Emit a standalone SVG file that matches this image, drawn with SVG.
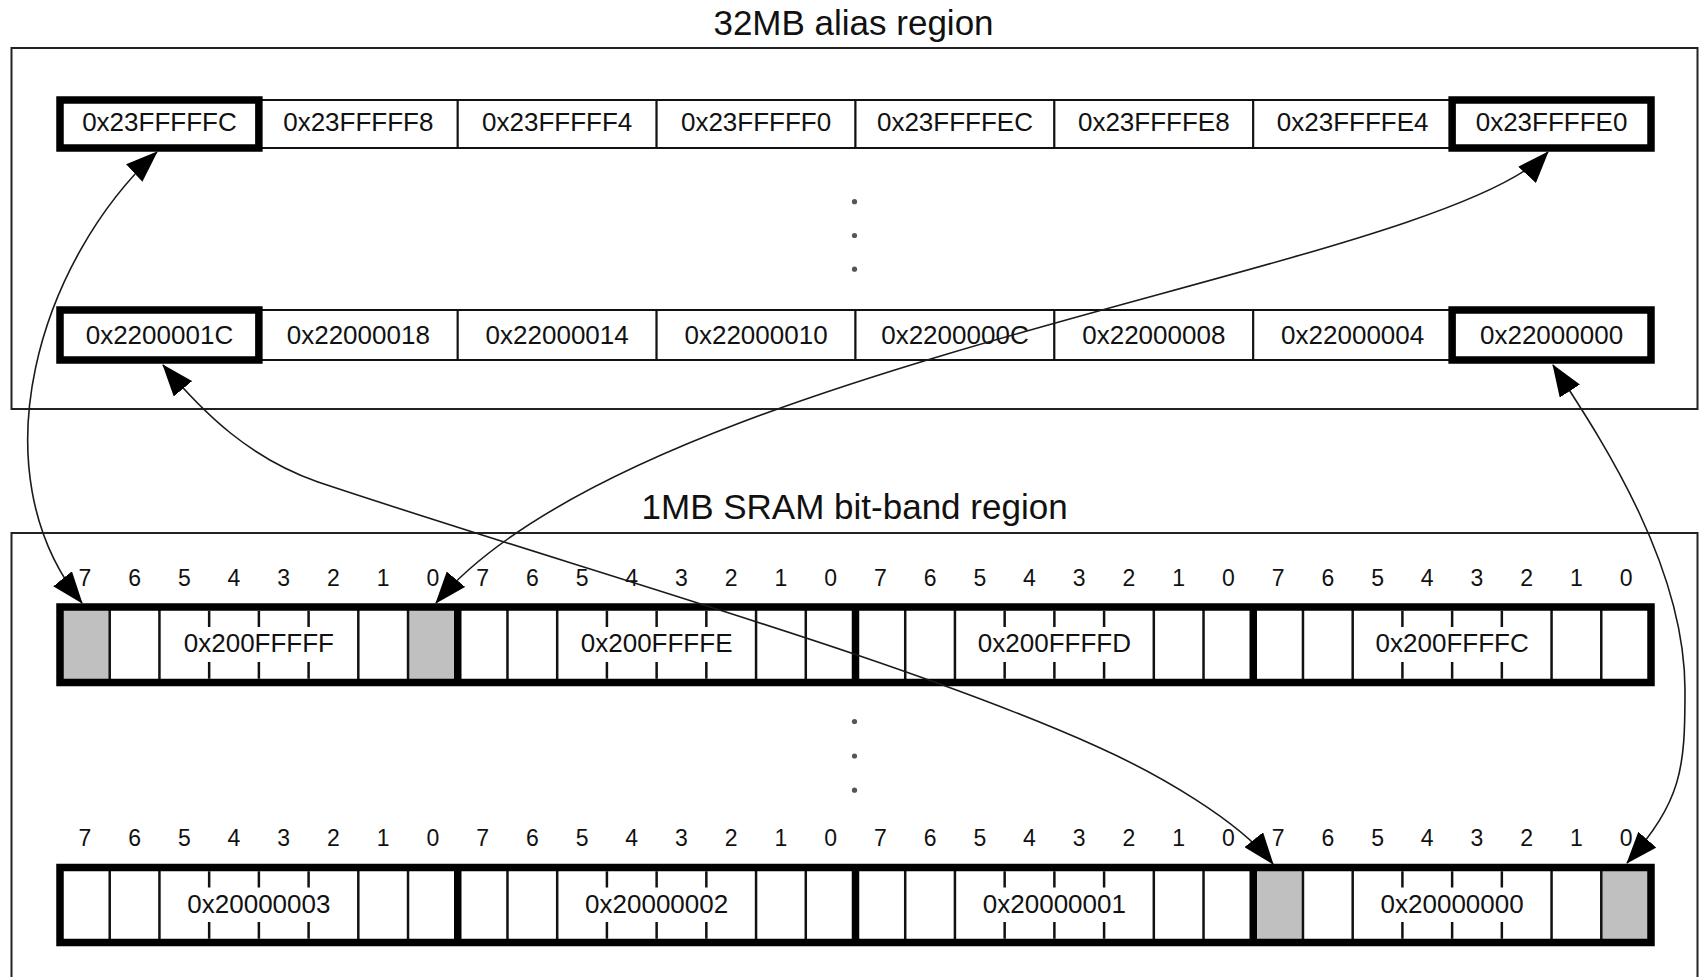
<svg xmlns="http://www.w3.org/2000/svg" width="1700" height="977" viewBox="0 0 1700 977">
<style>
.bg{fill:#fff}
.frame{fill:none;stroke:#222;stroke-width:2}
.cell{fill:#fff;stroke:#111;stroke-width:2}
.thick{fill:none;stroke:#000;stroke-width:7.5}
.thin{stroke:#111;stroke-width:2.5}
.gray{fill:#c0c0c0}
.t{font-family:"Liberation Sans",Arial,sans-serif;font-size:26px;fill:#111;text-anchor:middle}
.bn{font-family:"Liberation Sans",Arial,sans-serif;font-size:23px;fill:#111;text-anchor:middle}
.title{font-family:"Liberation Sans",Arial,sans-serif;font-size:35px;fill:#111;text-anchor:middle}
.dot{fill:#555}
.conn{fill:none;stroke:#1a1a1a;stroke-width:1.6;marker-start:url(#ah);marker-end:url(#ah)}
</style>
<defs>
<marker id="ah" viewBox="0 0 32 24" refX="31" refY="12" markerWidth="32" markerHeight="24" markerUnits="userSpaceOnUse" orient="auto-start-reverse"><path d="M0,0 L32,12 L0,24 Z" fill="#000"/></marker>
</defs>
<rect class="bg" x="0" y="0" width="1700" height="977"/>

<g id="alias-region">
<text class="title" x="853.5" y="34.5">32MB alias region</text>
<rect class="frame" x="11.5" y="48" width="1686" height="361"/>
</g>

<g id="alias-row-top">
<g id="a-23FFFFFC"><rect class="cell" x="60" y="100" width="198.875" height="48"/><text class="t" x="159.44" y="131">0x23FFFFFC</text></g>
<g id="a-23FFFFF8"><rect class="cell" x="258.875" y="100" width="198.875" height="48"/><text class="t" x="358.31" y="131">0x23FFFFF8</text></g>
<g id="a-23FFFFF4"><rect class="cell" x="457.75" y="100" width="198.875" height="48"/><text class="t" x="557.19" y="131">0x23FFFFF4</text></g>
<g id="a-23FFFFF0"><rect class="cell" x="656.625" y="100" width="198.875" height="48"/><text class="t" x="756.06" y="131">0x23FFFFF0</text></g>
<g id="a-23FFFFEC"><rect class="cell" x="855.5" y="100" width="198.875" height="48"/><text class="t" x="954.94" y="131">0x23FFFFEC</text></g>
<g id="a-23FFFFE8"><rect class="cell" x="1054.375" y="100" width="198.875" height="48"/><text class="t" x="1153.81" y="131">0x23FFFFE8</text></g>
<g id="a-23FFFFE4"><rect class="cell" x="1253.25" y="100" width="198.875" height="48"/><text class="t" x="1352.69" y="131">0x23FFFFE4</text></g>
<g id="a-23FFFFE0"><rect class="cell" x="1452.125" y="100" width="198.875" height="48"/><text class="t" x="1551.56" y="131">0x23FFFFE0</text></g>
<rect class="thick" x="60" y="100" width="198.875" height="48"/>
<rect class="thick" x="1452.125" y="100" width="198.875" height="48"/>
</g>

<g id="alias-dots">
<circle class="dot" cx="854.5" cy="201.7" r="2.6"/>
<circle class="dot" cx="854.5" cy="235.5" r="2.6"/>
<circle class="dot" cx="854.5" cy="269.2" r="2.6"/>
</g>

<g id="alias-row-bottom">
<g id="a-2200001C"><rect class="cell" x="60" y="310" width="198.875" height="50"/><text class="t" x="159.44" y="343.5">0x2200001C</text></g>
<g id="a-22000018"><rect class="cell" x="258.875" y="310" width="198.875" height="50"/><text class="t" x="358.31" y="343.5">0x22000018</text></g>
<g id="a-22000014"><rect class="cell" x="457.75" y="310" width="198.875" height="50"/><text class="t" x="557.19" y="343.5">0x22000014</text></g>
<g id="a-22000010"><rect class="cell" x="656.625" y="310" width="198.875" height="50"/><text class="t" x="756.06" y="343.5">0x22000010</text></g>
<g id="a-2200000C"><rect class="cell" x="855.5" y="310" width="198.875" height="50"/><text class="t" x="954.94" y="343.5">0x2200000C</text></g>
<g id="a-22000008"><rect class="cell" x="1054.375" y="310" width="198.875" height="50"/><text class="t" x="1153.81" y="343.5">0x22000008</text></g>
<g id="a-22000004"><rect class="cell" x="1253.25" y="310" width="198.875" height="50"/><text class="t" x="1352.69" y="343.5">0x22000004</text></g>
<g id="a-22000000"><rect class="cell" x="1452.125" y="310" width="198.875" height="50"/><text class="t" x="1551.56" y="343.5">0x22000000</text></g>
<rect class="thick" x="60" y="310" width="198.875" height="50"/>
<rect class="thick" x="1452.125" y="310" width="198.875" height="50"/>
</g>

<g id="bitband-region">
<text class="title" x="854.6" y="518.5">1MB SRAM bit-band region</text>
<rect class="frame" x="11.5" y="533" width="1686" height="470"/>
</g>

<g id="bit-numbers-top">
<text class="bn" x="84.86" y="586">7</text><text class="bn" x="134.58" y="586">6</text><text class="bn" x="184.30" y="586">5</text><text class="bn" x="234.02" y="586">4</text><text class="bn" x="283.73" y="586">3</text><text class="bn" x="333.45" y="586">2</text><text class="bn" x="383.17" y="586">1</text><text class="bn" x="432.89" y="586">0</text>
<text class="bn" x="482.61" y="586">7</text><text class="bn" x="532.33" y="586">6</text><text class="bn" x="582.05" y="586">5</text><text class="bn" x="631.77" y="586">4</text><text class="bn" x="681.48" y="586">3</text><text class="bn" x="731.20" y="586">2</text><text class="bn" x="780.92" y="586">1</text><text class="bn" x="830.64" y="586">0</text>
<text class="bn" x="880.36" y="586">7</text><text class="bn" x="930.08" y="586">6</text><text class="bn" x="979.80" y="586">5</text><text class="bn" x="1029.52" y="586">4</text><text class="bn" x="1079.23" y="586">3</text><text class="bn" x="1128.95" y="586">2</text><text class="bn" x="1178.67" y="586">1</text><text class="bn" x="1228.39" y="586">0</text>
<text class="bn" x="1278.11" y="586">7</text><text class="bn" x="1327.83" y="586">6</text><text class="bn" x="1377.55" y="586">5</text><text class="bn" x="1427.27" y="586">4</text><text class="bn" x="1476.98" y="586">3</text><text class="bn" x="1526.70" y="586">2</text><text class="bn" x="1576.42" y="586">1</text><text class="bn" x="1626.14" y="586">0</text>
</g>

<g id="bit-row-top">
<rect x="60" y="607" width="1591" height="75.5" fill="#fff"/>
<rect class="gray" x="60" y="607" width="49.72" height="75.5"/>
<rect class="gray" x="408.03" y="607" width="49.72" height="75.5"/>
<g id="b-200FFFFF">
<path class="thin" d="M109.72,607V682.5M159.44,607V682.5M358.31,607V682.5M408.03,607V682.5M209.16,610.75V627M258.88,610.75V627M308.59,610.75V627M209.16,662V678.75M258.88,662V678.75M308.59,662V678.75"/>
<text class="t" x="258.88" y="652">0x200FFFFF</text>
</g>
<g id="b-200FFFFE">
<path class="thin" d="M507.47,607V682.5M557.19,607V682.5M756.06,607V682.5M805.78,607V682.5M606.91,610.75V627M656.63,610.75V627M706.34,610.75V627M606.91,662V678.75M656.63,662V678.75M706.34,662V678.75"/>
<text class="t" x="656.63" y="652">0x200FFFFE</text>
</g>
<g id="b-200FFFFD">
<path class="thin" d="M905.22,607V682.5M954.94,607V682.5M1153.81,607V682.5M1203.53,607V682.5M1004.66,610.75V627M1054.38,610.75V627M1104.09,610.75V627M1004.66,662V678.75M1054.38,662V678.75M1104.09,662V678.75"/>
<text class="t" x="1054.38" y="652">0x200FFFFD</text>
</g>
<g id="b-200FFFFC">
<path class="thin" d="M1302.97,607V682.5M1352.69,607V682.5M1551.56,607V682.5M1601.28,607V682.5M1402.41,610.75V627M1452.13,610.75V627M1501.84,610.75V627M1402.41,662V678.75M1452.13,662V678.75M1501.84,662V678.75"/>
<text class="t" x="1452.13" y="652">0x200FFFFC</text>
</g>
<rect class="thick" x="60" y="607" width="1591" height="75.5"/>
<path class="thick" d="M457.75,607V682.5M855.5,607V682.5M1253.25,607V682.5"/>
</g>

<g id="bitband-dots">
<circle class="dot" cx="854.5" cy="721.5" r="2.6"/>
<circle class="dot" cx="854.5" cy="756" r="2.6"/>
<circle class="dot" cx="854.5" cy="790.2" r="2.6"/>
</g>

<g id="bit-numbers-bottom">
<text class="bn" x="84.86" y="845.5">7</text><text class="bn" x="134.58" y="845.5">6</text><text class="bn" x="184.30" y="845.5">5</text><text class="bn" x="234.02" y="845.5">4</text><text class="bn" x="283.73" y="845.5">3</text><text class="bn" x="333.45" y="845.5">2</text><text class="bn" x="383.17" y="845.5">1</text><text class="bn" x="432.89" y="845.5">0</text>
<text class="bn" x="482.61" y="845.5">7</text><text class="bn" x="532.33" y="845.5">6</text><text class="bn" x="582.05" y="845.5">5</text><text class="bn" x="631.77" y="845.5">4</text><text class="bn" x="681.48" y="845.5">3</text><text class="bn" x="731.20" y="845.5">2</text><text class="bn" x="780.92" y="845.5">1</text><text class="bn" x="830.64" y="845.5">0</text>
<text class="bn" x="880.36" y="845.5">7</text><text class="bn" x="930.08" y="845.5">6</text><text class="bn" x="979.80" y="845.5">5</text><text class="bn" x="1029.52" y="845.5">4</text><text class="bn" x="1079.23" y="845.5">3</text><text class="bn" x="1128.95" y="845.5">2</text><text class="bn" x="1178.67" y="845.5">1</text><text class="bn" x="1228.39" y="845.5">0</text>
<text class="bn" x="1278.11" y="845.5">7</text><text class="bn" x="1327.83" y="845.5">6</text><text class="bn" x="1377.55" y="845.5">5</text><text class="bn" x="1427.27" y="845.5">4</text><text class="bn" x="1476.98" y="845.5">3</text><text class="bn" x="1526.70" y="845.5">2</text><text class="bn" x="1576.42" y="845.5">1</text><text class="bn" x="1626.14" y="845.5">0</text>
</g>

<g id="bit-row-bottom">
<rect x="60" y="867.5" width="1591" height="75" fill="#fff"/>
<rect class="gray" x="1253.25" y="867.5" width="49.72" height="75"/>
<rect class="gray" x="1601.28" y="867.5" width="49.72" height="75"/>
<g id="b-20000003">
<path class="thin" d="M109.72,867.5V942.5M159.44,867.5V942.5M358.31,867.5V942.5M408.03,867.5V942.5M209.16,871.25V887.5M258.88,871.25V887.5M308.59,871.25V887.5M209.16,922V938.75M258.88,922V938.75M308.59,922V938.75"/>
<text class="t" x="258.88" y="913">0x20000003</text>
</g>
<g id="b-20000002">
<path class="thin" d="M507.47,867.5V942.5M557.19,867.5V942.5M756.06,867.5V942.5M805.78,867.5V942.5M606.91,871.25V887.5M656.63,871.25V887.5M706.34,871.25V887.5M606.91,922V938.75M656.63,922V938.75M706.34,922V938.75"/>
<text class="t" x="656.63" y="913">0x20000002</text>
</g>
<g id="b-20000001">
<path class="thin" d="M905.22,867.5V942.5M954.94,867.5V942.5M1153.81,867.5V942.5M1203.53,867.5V942.5M1004.66,871.25V887.5M1054.38,871.25V887.5M1104.09,871.25V887.5M1004.66,922V938.75M1054.38,922V938.75M1104.09,922V938.75"/>
<text class="t" x="1054.38" y="913">0x20000001</text>
</g>
<g id="b-20000000">
<path class="thin" d="M1302.97,867.5V942.5M1352.69,867.5V942.5M1551.56,867.5V942.5M1601.28,867.5V942.5M1402.41,871.25V887.5M1452.13,871.25V887.5M1501.84,871.25V887.5M1402.41,922V938.75M1452.13,922V938.75M1501.84,922V938.75"/>
<text class="t" x="1452.13" y="913">0x20000000</text>
</g>
<rect class="thick" x="60" y="867.5" width="1591" height="75"/>
<path class="thick" d="M457.75,867.5V942.5M855.5,867.5V942.5M1253.25,867.5V942.5"/>
</g>

<g id="connectors">
<path class="conn" d="M157,152 C40,260 -25,470 82,603"/>
<path class="conn" d="M1548,152 C1440,270 640,360 436,603"/>
<path class="conn" d="M163,365 C205,415 250,458 318,482 C578,569 898,657 1098,747 C1158,774 1238,820 1273,864"/>
<path class="conn" d="M1553,365 C1593,427 1685,560 1685,690 C1685,770 1682,800 1627,863"/>
</g>
</svg>
